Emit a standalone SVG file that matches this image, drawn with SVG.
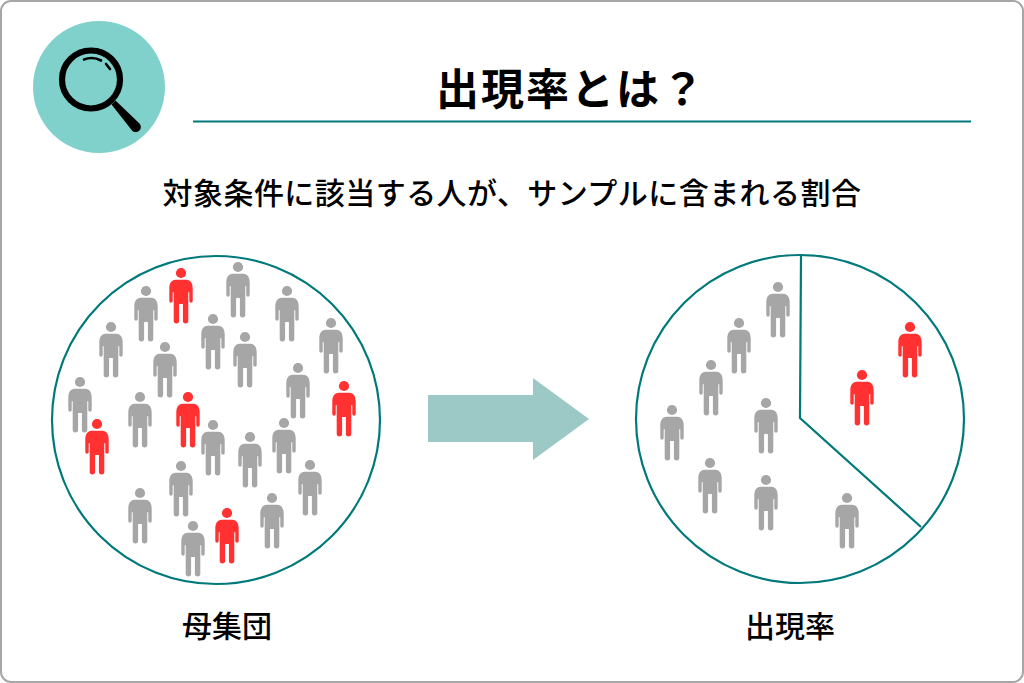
<svg xmlns="http://www.w3.org/2000/svg" width="1024" height="683" viewBox="0 0 1024 683">
<style>
text{font-family:"Noto Sans CJK JP","Noto Sans",sans-serif;fill:#000;text-anchor:middle}
.t{font-size:43px;font-weight:700}
.s{font-size:30px;font-weight:500;letter-spacing:.45px}
.l{font-size:30px;font-weight:500}
.ring{fill:#fff;stroke:#00797b;stroke-width:2.2}
.g{fill:#a6a6a6}
.r{fill:#ff3131}
.ln{fill:none;stroke:#00797b;stroke-width:2.2}
</style>
<defs>
<g id="p">
<circle cx="0" cy="5" r="5.1"/>
<path d="M-5.500 11.700H5.500C9.500 11.700 11.700 15.500 11.700 20.500V33a1.700 1.700 0 0 1-3.400 0V24.500C8.300 23.800 7.300 23.800 7.300 24.500V52.800a2.700 2.700 0 0 1-5.400 0V36H-1.900V52.800a2.700 2.700 0 0 1-5.400 0V24.500C-7.300 23.800-8.300 23.800-8.300 24.500V33a1.700 1.700 0 0 1-3.400 0V20.500C-11.700 15.500-9.500 11.700-5.500 11.700Z"/>
</g>
</defs>
<rect id="frame" x="1" y="1" width="1022" height="681" rx="10" fill="#fff" stroke="#a6a6a6" stroke-width="2"/>
<g id="icon">
<circle cx="99" cy="87" r="66" fill="#80d1cb"/>
<circle cx="91" cy="79.500" r="29" fill="none" stroke="#000" stroke-width="6.200"/>
<path d="M111.500 104.500L115.500 100.500L139.500 123.500A5 5 0 0 1 132 130.500Z" fill="#000"/>
<path d="M84 59.500Q93 56 101 60.500M106 64L110 69" fill="none" stroke="#000" stroke-width="2.600" stroke-linecap="round"/>
</g>
<g id="title">
<text class="t" x="571" y="105" letter-spacing="2">出現率とは？</text>
<path class="ln" d="M193 121.500H971"/>
<text class="s" x="512" y="204">対象条件に該当する人が、サンプルに含まれる割合</text>
</g>
<g id="population">
<circle class="ring" cx="216" cy="420" r="164"/>
<use href="#p" class="g" x="146" y="286"/>
<use href="#p" class="r" x="181" y="268"/>
<use href="#p" class="g" x="238" y="262"/>
<use href="#p" class="g" x="287" y="286"/>
<use href="#p" class="g" x="111" y="322"/>
<use href="#p" class="g" x="213" y="314"/>
<use href="#p" class="g" x="331" y="318"/>
<use href="#p" class="g" x="165" y="342"/>
<use href="#p" class="g" x="245" y="332"/>
<use href="#p" class="g" x="298" y="363"/>
<use href="#p" class="g" x="80" y="377"/>
<use href="#p" class="r" x="97" y="419"/>
<use href="#p" class="g" x="140" y="392"/>
<use href="#p" class="r" x="188" y="392"/>
<use href="#p" class="r" x="344" y="381"/>
<use href="#p" class="g" x="213" y="420"/>
<use href="#p" class="g" x="284" y="418"/>
<use href="#p" class="g" x="250" y="432"/>
<use href="#p" class="g" x="181" y="461"/>
<use href="#p" class="g" x="310" y="460"/>
<use href="#p" class="g" x="140" y="488"/>
<use href="#p" class="g" x="272" y="493"/>
<use href="#p" class="r" x="227" y="508"/>
<use href="#p" class="g" x="193" y="521"/>
<text class="l" x="227" y="637">母集団</text>
</g>
<g id="connectors">
<path d="M428 395H533V378L589 419L533 460V442H428Z" fill="#9cc8c6"/>
</g>
<g id="rate">
<circle class="ring" cx="800" cy="419" r="164"/>
<path class="ln" d="M801 256L800 418L921 527"/>
<use href="#p" class="g" x="778" y="282"/>
<use href="#p" class="g" x="739" y="318"/>
<use href="#p" class="g" x="711" y="360"/>
<use href="#p" class="g" x="672" y="405"/>
<use href="#p" class="g" x="766" y="398"/>
<use href="#p" class="g" x="710" y="458"/>
<use href="#p" class="g" x="766" y="475"/>
<use href="#p" class="g" x="847" y="493"/>
<use href="#p" class="r" x="910" y="322"/>
<use href="#p" class="r" x="862" y="370"/>
<text class="l" x="790" y="637">出現率</text>
</g>
</svg>
